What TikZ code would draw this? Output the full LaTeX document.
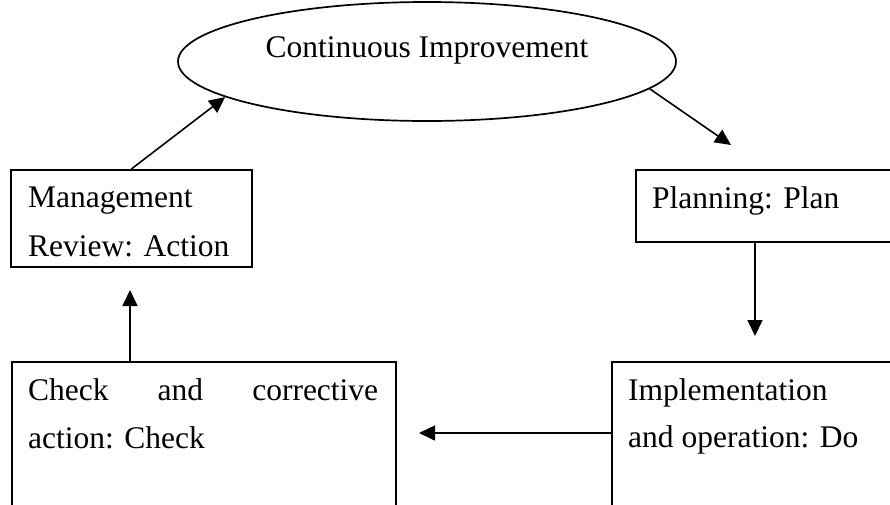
\documentclass[tikz,border=0pt]{standalone}
\usepackage{fontspec}
\setmainfont{Liberation Serif}
\usetikzlibrary{shapes.geometric,arrows.meta}
\tikzset{
  box/.style={draw, line width=1.7pt, anchor=north west, inner sep=0pt},
  lbl/.style={anchor=base west, inner sep=0pt, font=\fontsize{31.5}{38}\selectfont},
  arr/.style={line width=1.6pt, -{Triangle[length=16pt,width=15pt]}},
}
\begin{document}
\begin{tikzpicture}[x=1pt,y=-1pt]
\clip (0,0) rectangle (890,504);
\fill[white] (0,0) rectangle (890,504);
% ellipse
\node[draw, ellipse, line width=1.7pt, minimum width=498pt, minimum height=119pt, inner sep=0pt] (ci) at (427,61.5) {};
\node[anchor=base, inner sep=0pt, font=\fontsize{31.5}{38}\selectfont] (citxt) at (427,57) {Continuous Improvement};
% boxes
\node[box, minimum width=241pt, minimum height=97pt] (mgmt) at (10,169) {};
\node[box, minimum width=270pt, minimum height=72pt] (plan) at (635,169) {};
\node[box, minimum width=384pt, minimum height=160pt] (check) at (11,361) {};
\node[box, minimum width=300pt, minimum height=160pt] (impl) at (611,361) {};
% texts
\node[lbl] (t1) at (28,207) {Management};
\node[lbl] (t2) at (28,256) {Review: Action};
\node[lbl] (t3) at (652,208) {Planning: Plan};
\node[lbl] (t4) at (28,400) {\hbox to 350pt{Check\hfill and\hfill corrective}};
\node[lbl] (t5) at (28,448) {action: Check};
\node[lbl] (t6) at (628,400) {Implementation};
\node[lbl] (t7) at (628,447) {and operation: Do};
% free ends
\coordinate (p1) at (731,145);
\coordinate (p2) at (755,336);
\coordinate (p3) at (419,433);
\coordinate (p4) at (130,290);
\coordinate (s3) at (611,433);
% connectors
\draw[arr] (mgmt.north) -- (ci.190.5);
\draw[arr] (ci.-7) -- (p1);
\draw[arr] (plan.south -| p2) -- (p2);
\draw[arr] (s3) -- (p3);
\draw[arr] (check.north -| p4) -- (p4);
\end{tikzpicture}
\end{document}
